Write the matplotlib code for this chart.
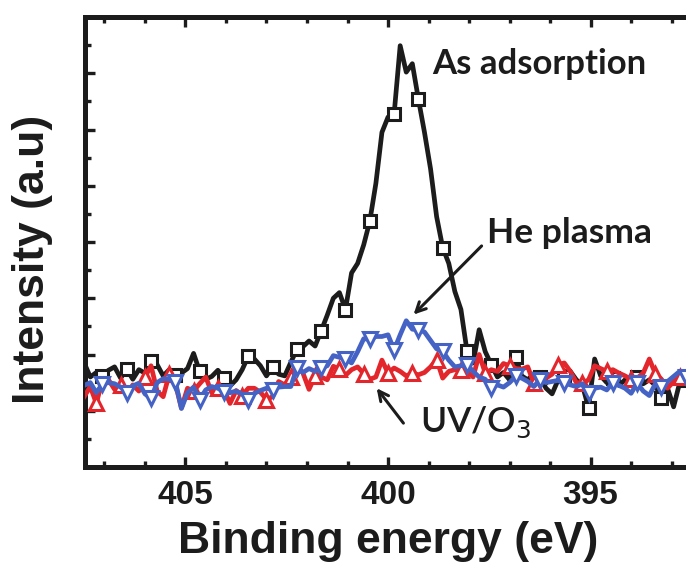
import numpy as np
import matplotlib
matplotlib.use("Agg")
import matplotlib.pyplot as plt
from matplotlib.ticker import MultipleLocator, FixedLocator, NullFormatter

# N 1s binding energy grid (eV), 0.15 eV step, descending
energy = 407.5 - 0.15 * np.arange(102)

as_adsorption = [
    1.85, 1.60, 1.68, 1.62, 1.72, 1.78, 1.58, 1.74, 1.56, 1.73,
    1.67, 1.88, 1.82, 1.62, 1.73, 1.64, 1.67, 1.75, 2.02, 1.70,
    1.56, 1.61, 1.72, 1.58, 1.44, 1.55, 1.73, 1.97, 1.92, 1.80,
    1.62, 1.78, 1.65, 1.62, 1.86, 2.09, 2.14, 2.24, 2.15, 2.42,
    2.70, 3.00, 3.10, 2.80, 3.45, 3.62, 3.95, 4.37, 5.04, 5.95,
    6.22, 6.27, 7.49, 7.02, 7.17, 6.54, 5.95, 5.30, 4.45, 3.90,
    3.62, 3.12, 2.80, 2.06, 1.85, 2.44, 2.05, 1.82, 1.60, 1.68,
    1.55, 1.95, 1.62, 1.55, 1.66, 1.60, 1.40, 1.30, 1.55, 1.62,
    1.70, 1.55, 1.45, 1.05, 1.92, 1.62, 1.50, 1.58, 1.45, 1.55,
    1.52, 1.60, 1.48, 1.55, 1.45, 1.22, 1.40, 1.07, 1.50, 1.55,
    1.48, 1.50,
]

uv_o3 = [
    1.25, 1.43, 1.13, 1.55, 1.55, 1.38, 1.45, 1.28, 1.46, 1.35,
    1.60, 1.80, 1.35, 1.25, 1.65, 1.48, 1.05, 1.40, 1.35, 1.48,
    1.60, 1.32, 1.40, 1.38, 1.13, 1.36, 1.27, 1.40, 1.40, 1.33,
    1.20, 1.25, 1.52, 1.46, 1.60, 1.82, 1.67, 1.38, 1.62, 1.60,
    1.55, 1.79, 1.74, 1.63, 1.73, 1.78, 1.66, 1.56, 1.60, 1.90,
    1.67, 1.76, 1.70, 1.62, 1.67, 1.64, 1.68, 1.78, 1.91, 1.58,
    1.70, 1.73, 1.72, 1.70, 1.60, 2.00, 1.67, 1.73, 1.70, 1.84,
    1.80, 1.75, 1.74, 1.78, 1.49, 1.49, 1.58, 1.65, 1.82, 1.85,
    1.70, 1.50, 1.49, 1.55, 1.80, 1.75, 1.70, 1.73, 1.67, 1.62,
    1.56, 1.58, 1.67, 1.92, 1.66, 1.56, 1.40, 1.52, 1.60, 1.55,
    1.50, 1.55,
]

he_plasma = [
    1.45, 1.50, 1.32, 1.48, 1.50, 1.48, 1.42, 1.32, 1.44, 1.49,
    1.30, 1.22, 1.50, 1.57, 1.56, 1.52, 1.04, 1.32, 1.42, 1.20,
    1.37, 1.43, 1.40, 1.34, 1.32, 1.35, 1.30, 1.19, 1.31, 1.36,
    1.40, 1.37, 1.42, 1.43, 1.43, 1.76, 1.68, 1.75, 1.70, 1.76,
    1.80, 1.98, 1.95, 1.92, 1.85, 2.05, 2.28, 2.27, 2.32, 2.32,
    2.35, 2.08, 2.35, 2.60, 2.45, 2.44, 2.40, 2.25, 2.10, 2.06,
    1.90, 1.78, 1.80, 1.82, 1.70, 1.60, 1.56, 1.40, 1.46, 1.42,
    1.50, 1.61, 1.58, 1.52, 1.43, 1.55, 1.50, 1.52, 1.54, 1.49,
    1.46, 1.43, 1.48, 1.31, 1.40, 1.42, 1.37, 1.50, 1.45, 1.40,
    1.31, 1.49, 1.35, 1.27, 1.48, 1.43, 1.52, 1.61, 1.70, 1.60,
    1.55, 1.50,
]

xtick_values = [405, 400, 395]
xtick_labels = ["405", "400", "395"]

BLACK = "#1c1c1c"
RED = "#e3262b"
BLUE = "#4463c4"

fig = plt.figure(figsize=(6.86, 5.62), dpi=100)
ax = fig.add_axes([85 / 686, 95 / 562, 619 / 686, 450 / 562])

ax.plot(energy, as_adsorption, color=BLACK, lw=3.4, marker="s", ms=8.5,
        mfc="white", mec=BLACK, mew=2.2, markevery=(3, 4), zorder=3,
        solid_joinstyle="round")
ax.plot(energy, uv_o3, color=RED, lw=3.4, marker="^", ms=10,
        mfc="white", mec=RED, mew=2.2, markevery=(2, 4), zorder=4,
        solid_joinstyle="round")
ax.plot(energy, he_plasma, color=BLUE, lw=3.4, marker="v", ms=10,
        mfc="white", mec=BLUE, mew=2.2, markevery=(3, 4), zorder=5,
        solid_joinstyle="round")

ax.set_xlim(407.48, 392.2)
ax.set_ylim(0, 8)

ax.xaxis.set_major_locator(FixedLocator(xtick_values))
ax.set_xticklabels(xtick_labels)
ax.xaxis.set_minor_locator(MultipleLocator(1))
ax.yaxis.set_major_locator(MultipleLocator(1))
ax.yaxis.set_minor_locator(MultipleLocator(0.5))
ax.yaxis.set_major_formatter(NullFormatter())

ax.tick_params(axis="both", which="both", direction="in", color=BLACK,
               top=True, bottom=True, left=True, right=False)
ax.tick_params(which="major", length=7, width=2.4)
ax.tick_params(which="minor", length=4, width=2.4)
ax.tick_params(axis="x", which="major", pad=9, labelsize=24,
               labelcolor=BLACK)
for lbl in ax.get_xticklabels():
    lbl.set_fontfamily("Liberation Sans")
    lbl.set_fontweight("bold")

for side in ("left", "bottom", "top", "right"):
    ax.spines[side].set_linewidth(3.6)
    ax.spines[side].set_color(BLACK)

fig.text(388 / 686, 9 / 562, "Binding energy (eV)", ha="center",
         va="baseline", fontsize=32, fontweight="bold",
         family="Liberation Sans", color=BLACK)
fig.text(33 / 686, 1 - 259 / 562, "Intensity (a.u)", ha="center",
         va="center", rotation=90, fontsize=32, fontweight="bold",
         family="Liberation Sans", color=BLACK)

ax.text(398.91, 6.99, "As adsorption", ha="left", va="baseline",
        fontsize=25, fontweight="bold", family="Lato", color=BLACK)
ax.text(397.56, 3.99, "He plasma", ha="left", va="baseline",
        fontsize=25.5, fontweight="bold", family="Lato", color=BLACK)
ax.text(399.21, 0.62, "UV/O$_3$", ha="left", va="baseline",
        fontsize=25.5, fontweight="semibold", family="Lato", color=BLACK)

arrow = dict(arrowstyle="->,head_length=0.7,head_width=0.35", lw=2.2,
             color=BLACK, shrinkA=0, shrinkB=0)
ax.annotate("", xy=(399.37, 2.71), xytext=(397.69, 3.93),
            arrowprops=arrow, zorder=6)
ax.annotate("", xy=(400.28, 1.40), xytext=(399.62, 0.78),
            arrowprops=arrow, zorder=6)

fig.savefig("out.png", dpi=100)
